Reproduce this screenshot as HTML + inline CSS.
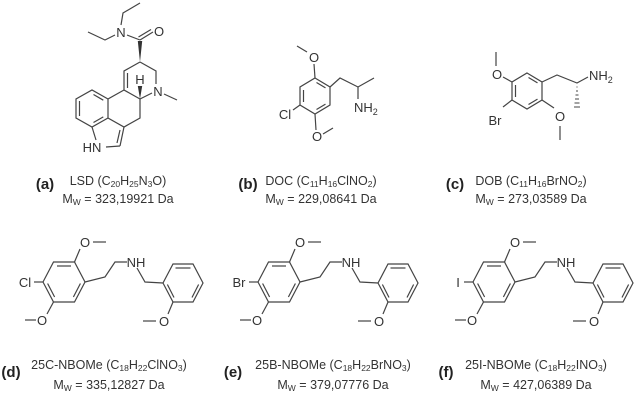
<!DOCTYPE html>
<html><head><meta charset="utf-8"><style>
html,body{margin:0;padding:0;background:#fff;}
svg{display:block;}
text{font-family:"Liberation Sans",sans-serif;fill:#333;}
.a{font-size:13px;}
.l{font-size:12.5px;}
.b{font-size:15px;font-weight:bold;fill:#222;}
</style></head><body>
<svg width="638" height="401" viewBox="0 0 638 401" xmlns="http://www.w3.org/2000/svg">
<defs>
<g id="nb" stroke="#444" stroke-width="1.2" fill="none">
  <!-- ring A -->
  <polyline points="43,282 53.5,262 74.5,262 85,282 74.5,302 53.5,302 43,282"/>
  <line x1="57" y1="266" x2="71" y2="266"/>
  <line x1="80.4" y1="283.5" x2="73.4" y2="297"/>
  <line x1="54.6" y1="297" x2="47.6" y2="283.5"/>
  <line x1="74.5" y1="262" x2="80" y2="249"/>
  <line x1="93" y1="242" x2="106" y2="242"/>
  <line x1="53.5" y1="302" x2="47" y2="314"/>
  <line x1="25" y1="320" x2="36" y2="320"/>
  <line x1="43" y1="282" x2="34" y2="282"/>
  <!-- chain -->
  <polyline points="85,282 105,277 115,262 127,262"/>
  <polyline points="137,268 145,282 163,283"/>
  <!-- ring B -->
  <polyline points="163,283 173,264 193,264 203,283 193,302 173,302 163,283"/>
  <line x1="175.5" y1="268" x2="190.5" y2="268"/>
  <line x1="198.6" y1="284.5" x2="192" y2="297.5"/>
  <line x1="174" y1="297.5" x2="167.4" y2="284.5"/>
  <line x1="173" y1="302" x2="168" y2="314"/>
  <line x1="143" y1="321" x2="156" y2="321"/>
</g>
<g id="nbt">
  <text class="a" x="85" y="247" text-anchor="middle">O</text>
  <text class="a" x="42" y="325" text-anchor="middle">O</text>
  <text class="a" x="136" y="267" text-anchor="middle">NH</text>
  <text class="a" x="164" y="326" text-anchor="middle">O</text>
</g>
</defs>

<!-- LSD -->
<g stroke="#444" stroke-width="1.2" fill="none">
  <polyline points="121,25 123,13 140,3"/>
  <polyline points="115,35 105,40 88,32"/>
  <line x1="127" y1="35" x2="140" y2="40"/>
  <line x1="140" y1="40" x2="153" y2="32"/>
  <line x1="138.5" y1="37" x2="151" y2="29.5"/>
  <polyline points="140,62 124,71 124,90 140,99"/>
  <line x1="127.5" y1="73" x2="127.5" y2="88"/>
  <polyline points="140,62 156,71 156,84"/>
  <line x1="140" y1="99" x2="152" y2="93"/>
  <line x1="164" y1="94" x2="177" y2="100"/>
  <polyline points="140,99 140,118 124,127 108,118 108,99 124,90"/>
  <polyline points="108,99 92,90 76,99 76,118 92,127 108,118"/>
  <line x1="79.5" y1="101" x2="79.5" y2="116"/>
  <line x1="103.3" y1="100.2" x2="93.5" y2="94.5"/>
  <line x1="93.5" y1="122.5" x2="103.3" y2="116.9"/>
  <line x1="92" y1="127" x2="96" y2="140"/>
  <line x1="120" y1="146" x2="106" y2="147"/>
  <line x1="120" y1="146" x2="124" y2="127"/>
  <line x1="117" y1="143" x2="120" y2="130"/>
</g>
<polygon points="137.8,41 142.2,41 140,62" fill="#333"/>
<polygon points="140,99 137.8,86 142.2,86" fill="#333"/>
<text class="a" x="121" y="37" text-anchor="middle">N</text>
<text class="a" x="159" y="36" text-anchor="middle">O</text>
<text class="a" x="158" y="96" text-anchor="middle">N</text>
<text class="a" x="140" y="84" text-anchor="middle">H</text>
<text class="a" x="92" y="152" text-anchor="middle">HN</text>

<!-- DOC -->
<g stroke="#444" stroke-width="1.2" fill="none">
  <polygon points="315,78 330,87 330,105 315,114 300,105 300,87"/>
  <line x1="303.5" y1="90" x2="303.5" y2="102"/>
  <line x1="316.5" y1="82.5" x2="325.5" y2="87.9"/>
  <line x1="325.5" y1="104.1" x2="316.5" y2="109.5"/>
  <line x1="315" y1="78" x2="314" y2="64"/>
  <line x1="307" y1="52" x2="297" y2="46"/>
  <line x1="300" y1="105" x2="293" y2="110"/>
  <line x1="315" y1="114" x2="316" y2="130"/>
  <line x1="323" y1="134" x2="333" y2="128"/>
  <polyline points="330,87 340,78 358,87 374,78"/>
  <line x1="358" y1="87" x2="358" y2="99"/>
</g>
<text class="a" x="314" y="62" text-anchor="middle">O</text>
<text class="a" x="285" y="119" text-anchor="middle">Cl</text>
<text class="a" x="317" y="141" text-anchor="middle">O</text>
<text class="a" x="354" y="112">NH<tspan font-size="9" dy="3">2</tspan></text>

<!-- DOB -->
<g stroke="#444" stroke-width="1.2" fill="none">
  <polygon points="527,73 542,82 542,100 527,109 512,100 512,82"/>
  <line x1="515.5" y1="85" x2="515.5" y2="97"/>
  <line x1="528.5" y1="77.5" x2="537.5" y2="82.9"/>
  <line x1="537.5" y1="99.1" x2="528.5" y2="104.5"/>
  <line x1="512" y1="82" x2="503" y2="77"/>
  <line x1="496" y1="52" x2="496" y2="66"/>
  <line x1="512" y1="100" x2="503" y2="107"/>
  <line x1="542" y1="100" x2="554" y2="108"/>
  <line x1="560" y1="126" x2="560" y2="140"/>
  <polyline points="542,82 557,75 577,83 588,77"/>
</g>
<g stroke="#444" stroke-width="1">
  <line x1="576.5" y1="87" x2="577.5" y2="87"/>
  <line x1="576" y1="91" x2="578" y2="91"/>
  <line x1="575.5" y1="95" x2="578.5" y2="95"/>
  <line x1="575" y1="99" x2="579" y2="99"/>
  <line x1="574.5" y1="103" x2="579.5" y2="103"/>
  <line x1="574" y1="107" x2="580" y2="107"/>
</g>
<text class="a" x="497" y="79" text-anchor="middle">O</text>
<text class="a" x="495" y="125" text-anchor="middle">Br</text>
<text class="a" x="560" y="121" text-anchor="middle">O</text>
<text class="a" x="589" y="80">NH<tspan font-size="9" dy="3">2</tspan></text>

<!-- NBOMe d,e,f -->
<use href="#nb"/><use href="#nbt"/>
<text class="a" x="25" y="287" text-anchor="middle">Cl</text>
<g transform="translate(215,0)"><use href="#nb"/><use href="#nbt"/>
<text class="a" x="24" y="287" text-anchor="middle">Br</text></g>
<g transform="translate(430,0)"><use href="#nb"/><use href="#nbt"/>
<text class="a" x="28" y="287" text-anchor="middle">I</text></g>

<!-- labels row 1 -->
<text class="b" x="45" y="189" text-anchor="middle">(a)</text>
<text class="l" x="118" y="185" text-anchor="middle">LSD (C<tspan font-size="8.5" dy="2">20</tspan><tspan dy="-2">H</tspan><tspan font-size="8.5" dy="2">25</tspan><tspan dy="-2">N</tspan><tspan font-size="8.5" dy="2">3</tspan><tspan dy="-2">O)</tspan></text>
<text class="l" x="118" y="203" text-anchor="middle">M<tspan font-size="8.5" dy="2">W</tspan><tspan dy="-2"> = 323,19921 Da</tspan></text>

<text class="b" x="248" y="189" text-anchor="middle">(b)</text>
<text class="l" x="321" y="185" text-anchor="middle">DOC (C<tspan font-size="8.5" dy="2">11</tspan><tspan dy="-2">H</tspan><tspan font-size="8.5" dy="2">16</tspan><tspan dy="-2">ClNO</tspan><tspan font-size="8.5" dy="2">2</tspan><tspan dy="-2">)</tspan></text>
<text class="l" x="321" y="203" text-anchor="middle">M<tspan font-size="8.5" dy="2">W</tspan><tspan dy="-2"> = 229,08641 Da</tspan></text>

<text class="b" x="455" y="189" text-anchor="middle">(c)</text>
<text class="l" x="531" y="185" text-anchor="middle">DOB (C<tspan font-size="8.5" dy="2">11</tspan><tspan dy="-2">H</tspan><tspan font-size="8.5" dy="2">16</tspan><tspan dy="-2">BrNO</tspan><tspan font-size="8.5" dy="2">2</tspan><tspan dy="-2">)</tspan></text>
<text class="l" x="531" y="203" text-anchor="middle">M<tspan font-size="8.5" dy="2">W</tspan><tspan dy="-2"> = 273,03589 Da</tspan></text>

<!-- labels row 2 -->
<text class="b" x="11" y="377" text-anchor="middle">(d)</text>
<text class="l" x="109" y="369" text-anchor="middle">25C-NBOMe (C<tspan font-size="8.5" dy="2">18</tspan><tspan dy="-2">H</tspan><tspan font-size="8.5" dy="2">22</tspan><tspan dy="-2">ClNO</tspan><tspan font-size="8.5" dy="2">3</tspan><tspan dy="-2">)</tspan></text>
<text class="l" x="109" y="389" text-anchor="middle">M<tspan font-size="8.5" dy="2">W</tspan><tspan dy="-2"> = 335,12827 Da</tspan></text>

<text class="b" x="233" y="377" text-anchor="middle">(e)</text>
<text class="l" x="333" y="369" text-anchor="middle">25B-NBOMe (C<tspan font-size="8.5" dy="2">18</tspan><tspan dy="-2">H</tspan><tspan font-size="8.5" dy="2">22</tspan><tspan dy="-2">BrNO</tspan><tspan font-size="8.5" dy="2">3</tspan><tspan dy="-2">)</tspan></text>
<text class="l" x="333" y="389" text-anchor="middle">M<tspan font-size="8.5" dy="2">W</tspan><tspan dy="-2"> =  379,07776 Da</tspan></text>

<text class="b" x="446" y="377" text-anchor="middle">(f)</text>
<text class="l" x="536" y="369" text-anchor="middle">25I-NBOMe (C<tspan font-size="8.5" dy="2">18</tspan><tspan dy="-2">H</tspan><tspan font-size="8.5" dy="2">22</tspan><tspan dy="-2">INO</tspan><tspan font-size="8.5" dy="2">3</tspan><tspan dy="-2">)</tspan></text>
<text class="l" x="536" y="389" text-anchor="middle">M<tspan font-size="8.5" dy="2">W</tspan><tspan dy="-2"> = 427,06389 Da</tspan></text>
</svg>
</body></html>
